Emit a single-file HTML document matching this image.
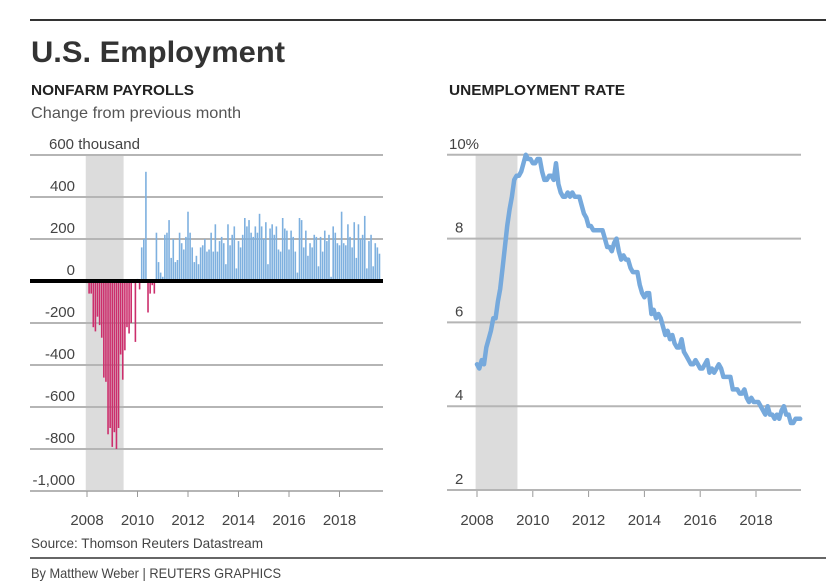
<!DOCTYPE html>
<html><head><meta charset="utf-8"><style>
html,body{margin:0;padding:0;background:#fff;}
svg{display:block;font-family:"Liberation Sans",sans-serif;}
</style></head><body>
<svg id="c" width="839" height="588" viewBox="0 0 839 588">
<line x1="30" y1="20" x2="826" y2="20" stroke="#333" stroke-width="2"/>
<text x="31" y="62" font-size="30" font-weight="bold" fill="#333" textLength="254" lengthAdjust="spacingAndGlyphs">U.S. Employment</text>
<text x="31" y="95" font-size="15" font-weight="bold" fill="#222" textLength="163" lengthAdjust="spacingAndGlyphs">NONFARM PAYROLLS</text>
<text x="31" y="118" font-size="16" fill="#555" textLength="210" lengthAdjust="spacingAndGlyphs">Change from previous month</text>
<text x="449" y="95" font-size="15" font-weight="bold" fill="#222" textLength="176" lengthAdjust="spacingAndGlyphs">UNEMPLOYMENT RATE</text>
<g id="left"></g>
<g id="right"></g>
<text x="31" y="548" font-size="14" fill="#444" textLength="232" lengthAdjust="spacingAndGlyphs">Source: Thomson Reuters Datastream</text>
<line x1="30" y1="558" x2="826" y2="558" stroke="#333" stroke-width="1.5"/>
<text x="31" y="578" font-size="14" fill="#444" textLength="250" lengthAdjust="spacingAndGlyphs">By Matthew Weber | REUTERS GRAPHICS</text>
</svg>
<script>
const years = [2008,2010,2012,2014,2016,2018];
const payTicks = [600,400,200,0,-200,-400,-600,-800,-1000];
const payTickLabels = ["600 thousand","400","200","0","-200","-400","-600","-800","-1,000"];
const rateTicks = [10,8,6,4,2];
const rateTickLabels = ["10%","8","6","4","2"];
const payrolls = [
-10,-60,-60,-220,-240,-170,-210,-270,-460,-480,-730,-700,
-790,-720,-800,-700,-350,-470,-330,-220,-250,-200,-10,-290,
10,-40,160,200,520,-150,-60,-20,-60,230,90,40,
20,220,230,290,110,200,90,100,230,180,150,210,
330,230,160,90,120,80,160,170,200,140,150,230,
140,270,140,190,210,180,80,270,170,220,260,60,
190,160,220,300,260,290,230,210,260,230,320,260,
200,280,80,250,270,220,260,150,140,300,250,240,
150,240,210,140,40,300,290,160,240,120,180,160,
220,210,70,210,140,240,190,220,20,260,230,180,
170,330,180,170,270,210,160,280,110,270,200,220,
310,60,190,220,70,180,160,130];
const rate = [
5.0,4.9,5.1,5.0,5.4,5.6,5.8,6.1,6.1,6.5,6.8,7.3,
7.8,8.3,8.7,9.0,9.4,9.5,9.5,9.6,9.8,10.0,9.9,9.9,
9.8,9.8,9.9,9.9,9.6,9.4,9.4,9.5,9.5,9.4,9.8,9.3,
9.1,9.0,9.0,9.1,9.0,9.1,9.0,9.0,9.0,8.8,8.6,8.5,
8.3,8.3,8.2,8.2,8.2,8.2,8.2,8.0,7.8,7.8,7.7,7.9,
8.0,7.7,7.5,7.6,7.5,7.5,7.3,7.2,7.2,7.2,6.9,6.7,
6.6,6.7,6.7,6.2,6.3,6.1,6.2,6.1,5.9,5.7,5.8,5.6,
5.7,5.5,5.4,5.4,5.6,5.3,5.2,5.1,5.0,5.0,5.1,5.0,
4.9,4.9,5.0,5.1,4.8,4.9,4.8,4.9,5.0,4.9,4.7,4.7,
4.7,4.7,4.4,4.4,4.4,4.3,4.3,4.4,4.2,4.1,4.2,4.1,
4.1,4.1,4.0,3.9,3.8,4.0,3.8,3.8,3.7,3.8,3.7,3.9,
4.0,3.8,3.8,3.6,3.6,3.7,3.7,3.7];
const recession = [2007.95, 2009.45];

const NS="http://www.w3.org/2000/svg";
function mk(parent,tag,attrs){const e=document.createElementNS(NS,tag);for(const k in attrs)e.setAttribute(k,attrs[k]);parent.appendChild(e);return e;}

// left axes
const xL = t => 87 + (t-2008)*25.25;
const yL = v => 281 - v*0.21;
const L = document.getElementById('left');
let sh = mk(L,'rect',{x:xL(recession[0]),y:155,width:xL(recession[1])-xL(recession[0]),height:335,fill:'#dcdcdc'});


payTicks.forEach((v,i)=>{
  if(v!==0){const g=mk(L,'line',{x1:30,x2:383,y1:yL(v),y2:yL(v),stroke:'#b5b5b5','stroke-width':2});
  
  }
  const t=mk(L,'text',{x:v===600?49:75,y:yL(v)-6,'font-size':15,fill:'#444','text-anchor':v===600?'start':'end'});
  t.textContent=payTickLabels[i];
  
  
});
payrolls.forEach((v,i)=>{
  const x=xL(2008+i/12);
  const b=mk(L,'rect',{x:x-0.8,width:1.6,y:v>=0?yL(v):yL(0),height:Math.abs(yL(v)-yL(0)),fill:v>=0?'#7eb0df':'#cc2e6c'});
  
  
});
let zl=mk(L,'line',{x1:30,x2:383,y1:yL(0),y2:yL(0),stroke:'#000','stroke-width':4});


years.forEach(y=>{
  const tk=mk(L,'line',{x1:xL(y),x2:xL(y),y1:491,y2:497,stroke:'#999','stroke-width':1});
  
  
  const t=mk(L,'text',{x:xL(y),y:525,'font-size':15,fill:'#444','text-anchor':'middle'});
  t.textContent=y;
  
  
});

// right axes
const xR = t => 477 + (t-2008)*27.9;
const yR = v => 490 - (v-2)*41.9;
const R = document.getElementById('right');
let sh2 = mk(R,'rect',{x:xR(recession[0]),y:155,width:xR(recession[1])-xR(recession[0]),height:335,fill:'#dcdcdc'});


rateTicks.forEach((v,i)=>{
  const g=mk(R,'line',{x1:447,x2:801,y1:yR(v),y2:yR(v),stroke:'#b5b5b5','stroke-width':2});
  
  
  const t=mk(R,'text',{x:v===10?449:455,y:yR(v)-6,'font-size':15,fill:'#444'});
  t.textContent=rateTickLabels[i];
  
  
});
const pts = rate.map((v,i)=>xR(2008+i/12).toFixed(1)+','+yR(v).toFixed(1)).join(' ');
const pl=mk(R,'polyline',{points:pts,fill:'none',stroke:'#76a9dc','stroke-width':4.5,'stroke-linejoin':'round','stroke-linecap':'round'});


years.forEach(y=>{
  const tk=mk(R,'line',{x1:xR(y),x2:xR(y),y1:491,y2:497,stroke:'#999','stroke-width':1});
  
  
  const t=mk(R,'text',{x:xR(y),y:525,'font-size':15,fill:'#444','text-anchor':'middle'});
  t.textContent=y;
  
  
});
</script>
</body></html>
